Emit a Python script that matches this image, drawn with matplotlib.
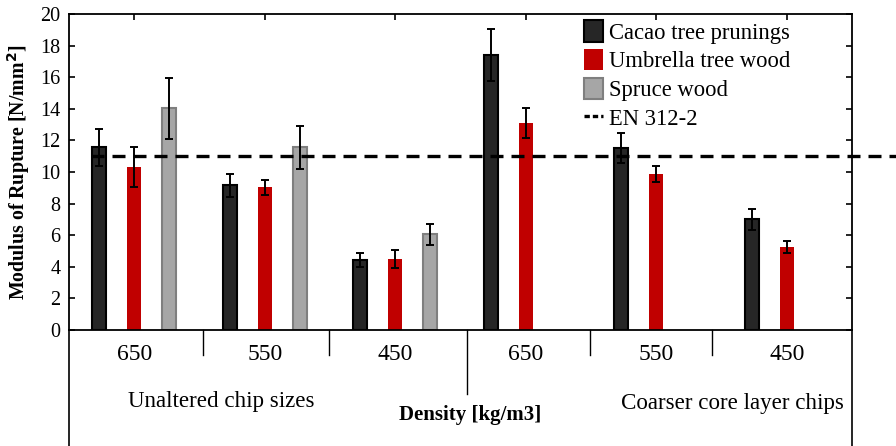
import matplotlib
matplotlib.use("Agg")
import matplotlib.pyplot as plt
import numpy as np
from matplotlib.patches import Patch
from matplotlib.lines import Line2D

plt.rcParams["font.family"] = ["Liberation Serif", "DejaVu Serif"]

# ── data ────────────────────────────────────────────────────────
densities = ["650", "550", "450", "650", "550", "450"]
series_names = ["Cacao tree prunings", "Umbrella tree wood", "Spruce wood"]

cacao_mean = [11.58, 9.16, 4.41, 17.38, 11.50, 7.00]
cacao_err = [1.17, 0.73, 0.44, 1.65, 0.94, 0.66]
umbrella_mean = [10.30, 9.03, 4.49, 13.08, 9.87, 5.25]
umbrella_err = [1.27, 0.46, 0.59, 0.95, 0.50, 0.40]
spruce_mean = [14.03, 11.56, 6.06]
spruce_err = [1.95, 1.37, 0.65]

en312_limit = 11.0
group_names = ["Unaltered chip sizes", "Coarser core layer chips"]

# ── figure ──────────────────────────────────────────────────────
fig = plt.figure(figsize=(8.96, 4.46), dpi=100)
ax = fig.add_axes([0.077, 0.26, 0.874, 0.7086])

x = np.arange(1, len(densities) + 1)
off = 0.268
w = 0.105

ax.bar(x - off, cacao_mean, w, color="#262626", edgecolor="black", linewidth=1.5, zorder=2)
ax.bar(x, umbrella_mean, w, color="#c00000", linewidth=0, zorder=2)
xs = x[:len(spruce_mean)] + off
ax.bar(xs, spruce_mean, w, color="#a6a6a6", edgecolor="#7f7f7f", linewidth=1.5, zorder=2)

eb = dict(fmt="none", ecolor="black", elinewidth=1.4, capsize=3, capthick=1.4, zorder=4)
ax.errorbar(x - off, cacao_mean, yerr=cacao_err, **eb)
ax.errorbar(x, umbrella_mean, yerr=umbrella_err, **eb)
ax.errorbar(xs, spruce_mean, yerr=spruce_err, **eb)

# EN 312-2 requirement, running past the right spine
ax.plot([0.67, 6.84], [en312_limit, en312_limit], color="black", lw=2.4,
        dashes=(3.9, 2.4), clip_on=False, zorder=3)

ax.set_xlim(0.5, 6.5)
ax.set_ylim(0, 20)
ax.set_yticks(np.arange(0, 21, 2))
ax.set_xticks(x)
ax.set_xticklabels(densities, fontsize=17)
ax.tick_params(axis="y", labelsize=14.5, direction="in", right=True, length=4, width=1.2, pad=6)
ax.tick_params(axis="x", direction="in", top=True, length=4, width=1.2, pad=10)
for s in ax.spines.values():
    s.set_linewidth(1.3)

ax.set_ylabel("Modulus of Rupture [N/mm$^{\\mathbf{2}}$]", fontsize=14.3, fontweight="bold")
ax.yaxis.set_label_coords(-0.047, 0.5)

# lower frame and group separators
tr = ax.get_xaxis_transform()
for xa in (0, 1):
    ax.plot([xa, xa], [0, -0.37], transform=ax.transAxes, color="black", lw=1.2, clip_on=False)
for xp in [1.53, 2.49, 4.49, 5.43]:
    ax.plot([xp, xp], [0, -0.079], transform=tr, color="black", lw=1.0, clip_on=False)
ax.plot([3.55, 3.55], [0, -0.203], transform=tr, color="black", lw=1.0, clip_on=False)

ax.text(1.665, -0.225, group_names[0], transform=tr, ha="center", va="center", fontsize=16.6)
ax.text(5.58, -0.234, group_names[1], transform=tr, ha="center", va="center", fontsize=16.6)
ax.text(3.57, -0.27, "Density [kg/m3]", transform=tr, ha="center", va="center",
        fontsize=15, fontweight="bold")

handles = [
    Patch(facecolor="#262626", edgecolor="black", linewidth=1.5),
    Patch(facecolor="#c00000", edgecolor="#c00000", linewidth=0),
    Patch(facecolor="#a6a6a6", edgecolor="#7f7f7f", linewidth=1.5),
    Line2D([0], [0], color="black", lw=2.4, dashes=(1.6, 0.9)),
]
ax.legend(handles, series_names + ["EN 312-2"], loc="upper left",
          bbox_to_anchor=(0.655, 0.987), frameon=False, fontsize=16.3,
          handlelength=0.84, handleheight=1.06, handletextpad=0.25,
          labelspacing=0.24, borderpad=0.1, borderaxespad=0)

fig.savefig("out.png", dpi=100)
